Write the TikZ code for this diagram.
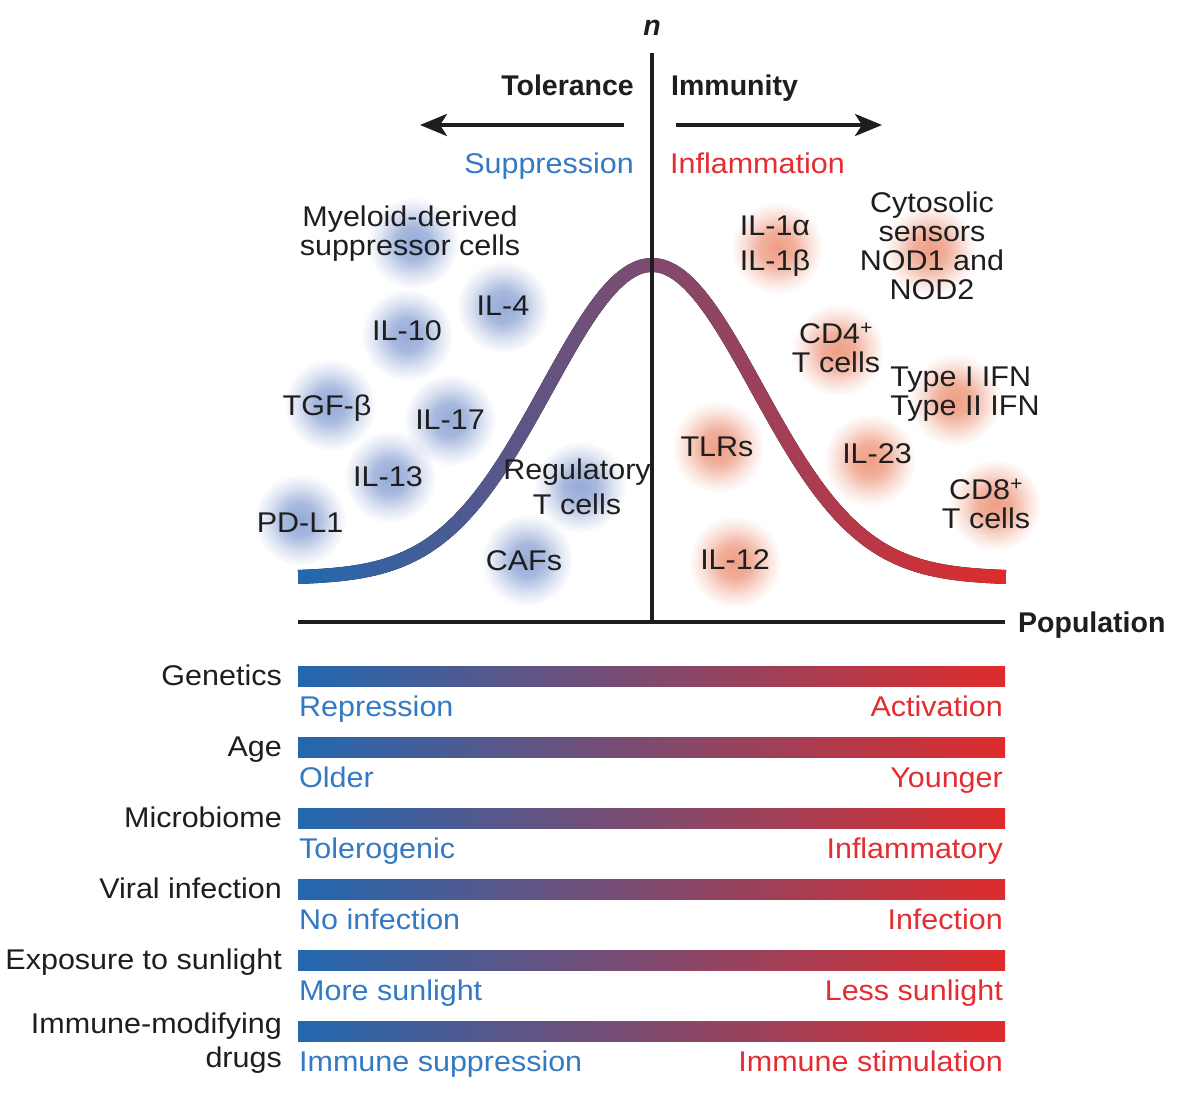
\documentclass[tikz,border=0pt]{standalone}
\usepackage{fontspec}
\setmainfont[FakeStretch=1.07]{Liberation Sans}
\newfontfamily\boldfam{Liberation Sans}
\usetikzlibrary{arrows.meta,fadings}
\definecolor{cblue}{RGB}{34,104,176}
\definecolor{cred}{RGB}{222,44,44}
\definecolor{tblue}{RGB}{52,122,195}
\definecolor{tred}{RGB}{228,45,50}
\definecolor{tblack}{RGB}{30,30,30}
\definecolor{blobblue}{RGB}{105,135,200}
\definecolor{blobred}{RGB}{232,118,82}
\pgfdeclareradialshading{blobshade}{\pgfpointorigin}{color(0bp)=(pgftransparent!30); color(9bp)=(pgftransparent!42); color(18bp)=(pgftransparent!78); color(25bp)=(pgftransparent!100); color(50bp)=(pgftransparent!100)}
\pgfdeclarefading{blobfade}{\pgfuseshading{blobshade}}
\begin{document}
\begin{tikzpicture}[x=1pt,y=-1pt,
  font=\fontsize{28.5}{29}\selectfont,
  every node/.style={inner sep=0pt,text=tblack},
  lbl/.style={anchor=base},
  bold/.style={font=\fontsize{28.5}{29}\selectfont\boldfam\bfseries},
  axisline/.style={line width=4pt,draw=tblack},
  bluelab/.style={text=tblue,anchor=base west},
  redlab/.style={text=tred,anchor=base east},
  bluedot/.style={fill=blobblue,path fading=blobfade},
  reddot/.style={fill=blobred,path fading=blobfade},
  gradbar/.style={left color=cblue,right color=cred},
  declare function={gg(\t)=exp(-0.5*(\t)*(\t)); dd(\t)=2.981*(\t)*gg(\t); nn(\t)=sqrt(1+dd(\t)*dd(\t));}
]
\fill[white] (0,0) rectangle (1200,1113);
\useasboundingbox (0,0) rectangle (1200,1113);

% blobs
\foreach \x/\y in {413/243, 503/307, 407/335, 330/405, 450/420, 390/477, 300/520, 580/487, 527/560}
  \fill[bluedot] (\x,\y) circle (46);
\foreach \x/\y in {777/248, 930/250, 838/350, 955/400, 718/447, 870/460, 995/505, 735/562}
  \fill[reddot] (\x,\y) circle (46);

% bell curve
\fill[gradbar]
  plot[variable=\t,domain=-3.37:3.37,samples=160] ({652+105*\t-7*dd(\t)/nn(\t)},{578-313*gg(\t)+7/nn(\t)})
  -- plot[variable=\t,domain=3.37:-3.37,samples=160] ({652+105*\t+7*dd(\t)/nn(\t)},{578-313*gg(\t)-7/nn(\t)})
  -- cycle;

% axes
\coordinate (ytop) at (652,53);
\coordinate (orig) at (652,622);
\coordinate (xl) at (298,622);
\coordinate (xr) at (1005,622);
\draw[axisline] (ytop) -- (orig);
\draw[axisline] (xl) -- (xr);
\node[lbl,font=\fontsize{28.5}{29}\selectfont\boldfam\bfseries\itshape] (nlab) at (652,36) {n};
\node[bold,anchor=base west] (pop) at (1018,632) {Population};

% top arrows
\coordinate (la0) at (624,125);
\coordinate (la1) at (420,125);
\coordinate (ra0) at (676,125);
\coordinate (ra1) at (882,125);
\draw[line width=4pt,draw=tblack,-{Stealth[length=27pt,width=22pt,inset=7pt]}] (la0) -- (la1);
\draw[line width=4pt,draw=tblack,-{Stealth[length=27pt,width=22pt,inset=7pt]}] (ra0) -- (ra1);
\node[bold,anchor=base east] (tol) at (634,96) {Tolerance};
\node[bold,anchor=base west] (imm) at (671,96) {Immunity};
\node[text=tblue,anchor=base east] (supp) at (634,174) {Suppression};
\node[text=tred,anchor=base west] (infl) at (670,174) {Inflammation};

% tolerance side labels
\node[align=center] (mdsc) at (410,234) {Myeloid-derived\\suppressor cells};
\node (il4) at (503,306) {IL-4};
\node (il10) at (407,331) {IL-10};
\node (tgfb) at (327,408) {TGF-β};
\node (il17) at (450,420) {IL-17};
\node (il13) at (388,477) {IL-13};
\node (pdl1) at (300,523) {PD-L1};
\node[align=center,font=\fontsize{28.5}{35}\selectfont] (treg) at (577,487) {Regulatory\\T cells};
\node (cafs) at (524,561) {CAFs};

% immunity side labels
\node[align=center,font=\fontsize{28.5}{35}\selectfont] (il1) at (775,246) {IL-1α\\IL-1β};
\node[align=center] (cyto) at (932,246) {Cytosolic\\sensors\\NOD1 and\\NOD2};
\node[align=center] (cd4) at (836,348) {CD4\textsuperscript{+}\\T cells};
\node[align=left] (ifn) at (965,394) {Type I IFN\\Type II IFN};
\node (tlrs) at (717,447) {TLRs};
\node (il23) at (877,454) {IL-23};
\node[align=center] (cd8) at (986,504) {CD8\textsuperscript{+}\\T cells};
\node (il12) at (735,560) {IL-12};

% bottom bars
\foreach \i/\A/\B in {0/Repression/Activation, 1/Older/Younger, 2/Tolerogenic/Inflammatory, 3/No infection/Infection, 4/More sunlight/Less sunlight, 5/Immune suppression/Immune stimulation}{
  \pgfmathsetmacro{\T}{666+71*\i}
  \shade[gradbar] (298,\T) rectangle (1005,\T+20);
  \node[bluelab] (lo\i) at (299,\T+50) {\A};
  \node[redlab] (hi\i) at (1003,\T+50) {\B};
}
\foreach \i/\L in {0/Genetics, 1/Age, 2/Microbiome, 3/Viral infection, 4/Exposure to sunlight}{
  \pgfmathsetmacro{\T}{666+71*\i}
  \node[anchor=base east] (fac\i) at (282,\T+19) {\L};
}
\node[anchor=base east] (fac5a) at (282,1033) {Immune-modifying};
\node[anchor=base east] (fac5b) at (282,1067) {drugs};
\end{tikzpicture}
\end{document}
